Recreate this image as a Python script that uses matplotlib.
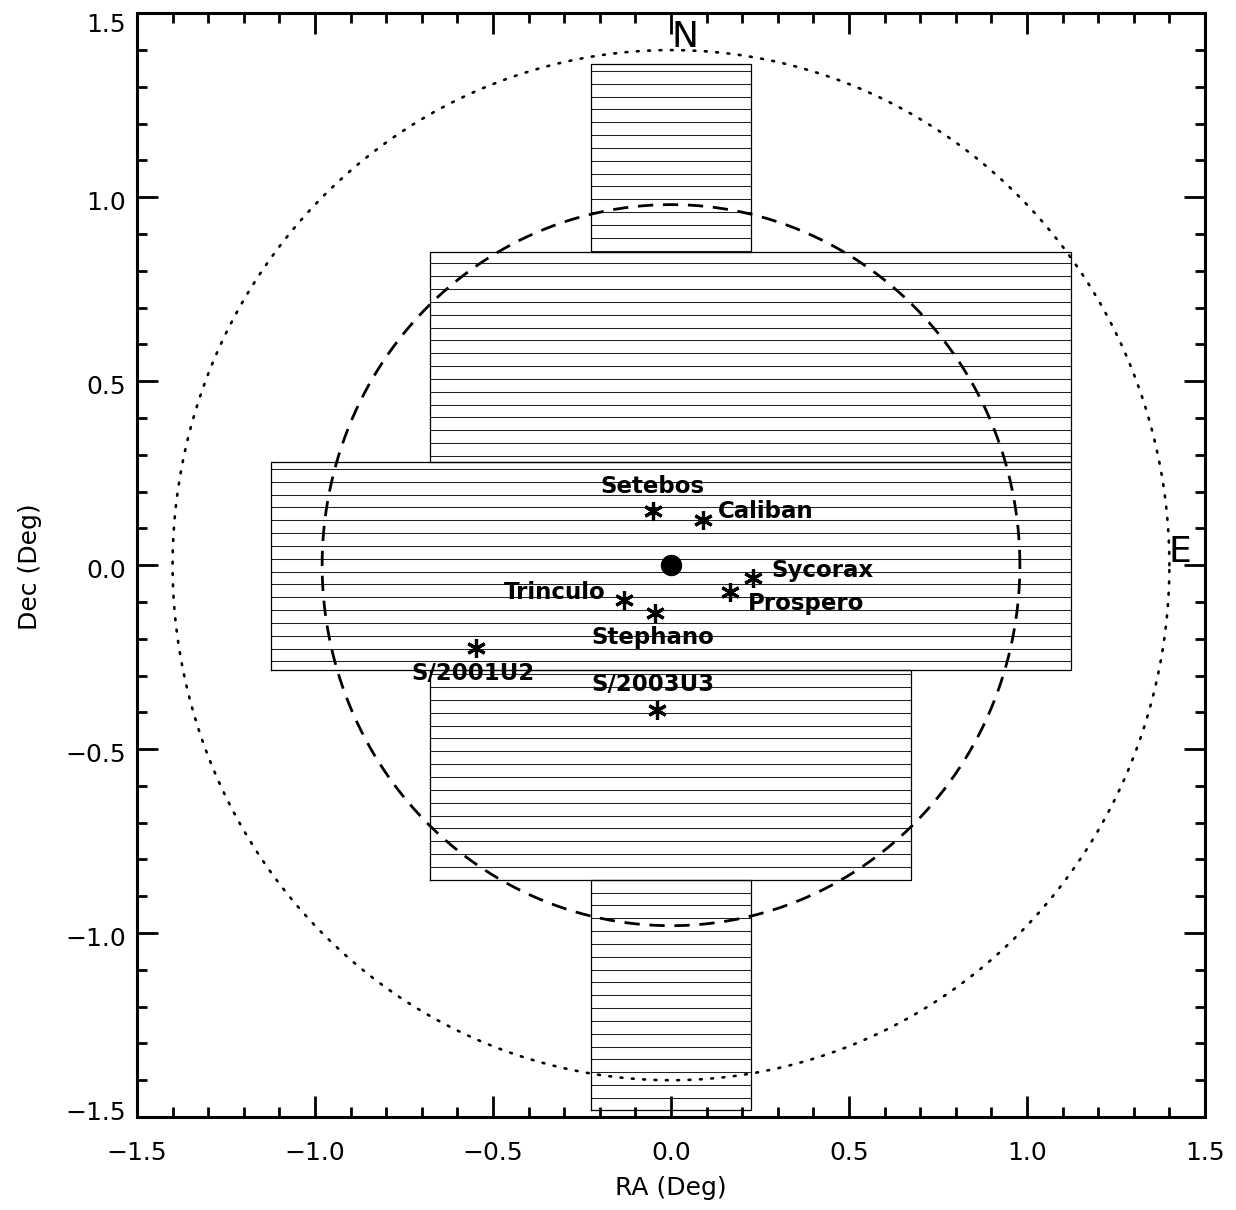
import numpy as np
import matplotlib
matplotlib.use("Agg")
import matplotlib.pyplot as plt
import matplotlib.transforms as mtransforms
from matplotlib.ticker import MultipleLocator

# ---- data ----
# field tiles (x0, x1, y0, y1) in degrees
tile_x0 = [-0.225, -0.677, -1.124, -0.677, -0.225]
tile_x1 = [0.225, 1.124, 1.124, 0.674, 0.225]
tile_y0 = [0.851, 0.281, -0.284, -0.855, -1.480]
tile_y1 = [1.362, 0.851, 0.281, -0.284, -0.855]
hatch_step = 0.0349

moon_names = ["Setebos", "Caliban", "Sycorax", "Prospero", "Trinculo",
              "Stephano", "S/2003U3", "S/2001U2"]
moon_ra = [-0.051, 0.090, 0.230, 0.166, -0.132, -0.045, -0.039, -0.548]
moon_dec = [0.148, 0.123, -0.035, -0.072, -0.094, -0.130, -0.395, -0.224]
label_x = [-0.053, 0.132, 0.281, 0.216, -0.185, -0.051, -0.051, -0.556]
label_y = [0.215, 0.145, -0.015, -0.105, -0.075, -0.198, -0.325, -0.295]
label_ha = ["center", "left", "left", "left", "right", "center", "center", "center"]

dashed_radius = 0.98
dotted_radius = 1.40

fig = plt.figure(figsize=(12.36, 12.10), dpi=100)
ax = fig.add_axes([137/1236, 1-1117/1210, (1205-137)/1236, (1117-13.3)/1210])

# hatched tiles
for x0, x1, y0, y1 in zip(tile_x0, tile_x1, tile_y0, tile_y1):
    k0 = int(np.ceil(y0/hatch_step - 0.5))
    k1 = int(np.floor(y1/hatch_step - 0.5))
    ys = (np.arange(k0, k1+1) + 0.5) * hatch_step
    ax.hlines(ys, x0, x1, colors="#222222", linewidth=0.75)
    ax.plot([x0, x1, x1, x0, x0], [y0, y0, y1, y1, y0], color="black", linewidth=0.9)

# circles
t = np.linspace(0, 2*np.pi, 720)
ax.plot(dashed_radius*np.cos(t), dashed_radius*np.sin(t), color="black",
        linewidth=2.0, linestyle=(0, (5.5, 3.5)))
ax.plot(dotted_radius*np.cos(t), dotted_radius*np.sin(t), color="black",
        linewidth=1.9, linestyle=(0, (0.7, 3.6)), dash_capstyle="round")

# planet
ax.plot([0.0], [0.0], "o", color="black", markersize=14.4)

# moons
ax.plot(moon_ra, moon_dec, linestyle="none", marker=(6, 2, 0), markersize=13.5,
        markeredgewidth=2.3, color="black")
for name, lx, ly, ha in zip(moon_names, label_x, label_y, label_ha):
    ax.text(lx, ly, name, ha=ha, va="center", fontsize=16.5, fontweight="bold")

# compass
ax.text(0.040, 1.436, "N", ha="center", va="center", fontsize=26)
ax.text(1.430, 0.036, "E", ha="center", va="center", fontsize=26)

ax.set_xlim(-1.5, 1.5)
ax.set_ylim(-1.5, 1.5)
ax.xaxis.set_major_locator(MultipleLocator(0.5))
ax.xaxis.set_minor_locator(MultipleLocator(0.1))
ax.yaxis.set_major_locator(MultipleLocator(0.5))
ax.yaxis.set_minor_locator(MultipleLocator(0.1))
ax.tick_params(which="both", direction="in", top=True, right=True, width=2.0,
               labelsize=18)
ax.tick_params(which="major", length=15)
ax.tick_params(which="minor", length=7.5)
ax.tick_params(axis="x", which="major", pad=17)
ax.tick_params(axis="y", which="major", pad=8)
fmt = plt.FuncFormatter(lambda v, p: f"{v:.1f}".replace("-", "\u2212"))
ax.xaxis.set_major_formatter(fmt)
ax.yaxis.set_major_formatter(fmt)
for s in ax.spines.values():
    s.set_linewidth(2.2)

fig.text(671/1236, 1-1188/1210, "RA (Deg)", ha="center", va="center", fontsize=18)
fig.text(30/1236, 1-567/1210, "Dec (Deg)", ha="center", va="center", fontsize=18,
         rotation=90)

fig.canvas.draw()
# shift y tick labels slightly down, endpoints inward (as in the original)
for tick in ax.yaxis.get_major_ticks():
    v = tick.get_loc()
    dy = -3
    if v > 1.49:
        dy = -9
    elif v < -1.49:
        dy = 7
    lab = tick.label1
    lab.set_transform(lab.get_transform() +
                      mtransforms.ScaledTranslation(0, dy/100, fig.dpi_scale_trans))

fig.savefig("out.png", dpi=100)
